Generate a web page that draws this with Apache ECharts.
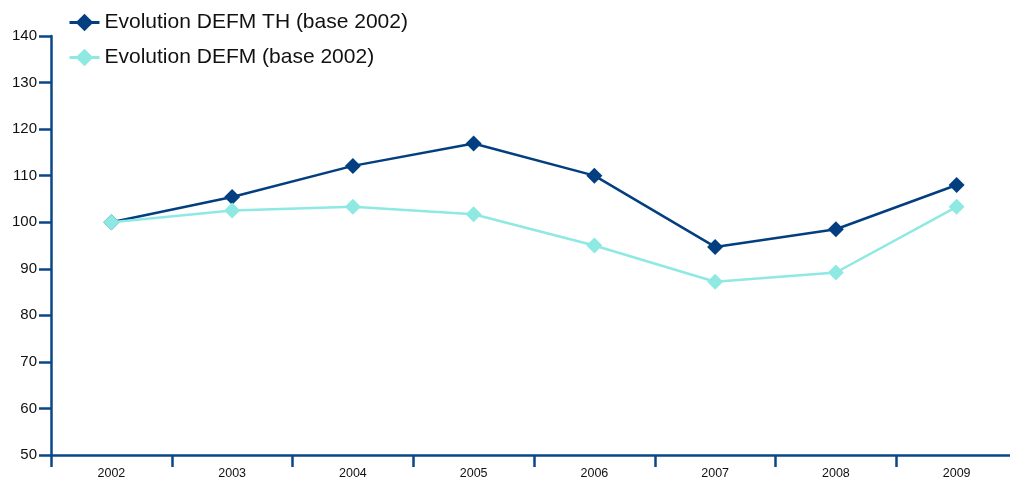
<!DOCTYPE html>
<html><head><meta charset="utf-8">
<script src="https://cdn.jsdelivr.net/npm/echarts@6/dist/echarts.min.js"></script>
<style>html,body{margin:0;padding:0;background:#fff}#c{width:1010px;height:481px}</style>
</head><body><div id="c"></div>
<script>
const categories = ['2002','2003','2004','2005','2006','2007','2008','2009'];
const seriesTH = [100, 105.4, 112.1, 116.9, 110.0, 94.7, 98.5, 108.0];
const seriesDEFM = [100, 102.5, 103.3, 101.7, 95.0, 87.2, 89.2, 103.3];
const nameTH = 'Evolution DEFM TH (base 2002)';
const nameDEFM = 'Evolution DEFM (base 2002)';
const axisColor = '#0a4788';
const font = 'Arial, "Liberation Sans", sans-serif';
const chart = echarts.init(document.getElementById('c'), null, {renderer:'canvas'});
chart.setOption({
  animation: false,
  backgroundColor: '#fff',
  grid: {left: 51, top: 36, height: 419, width: 966, containLabel: false, outerBoundsMode: 'none'},
  legend: {
    orient: 'vertical', left: 63, top: 7, itemGap: 14,
    itemWidth: 30, itemHeight: 22,
    lineStyle: {width: 3},
    textStyle: {fontFamily: font, fontSize: 21, color: '#111'},
    data: [nameTH, nameDEFM]
  },
  xAxis: {
    type: 'category', data: categories, boundaryGap: true,
    axisLine: {lineStyle: {color: axisColor, width: 2.5}},
    axisTick: {show: true, length: 12, inside: false, lineStyle: {color: axisColor, width: 2.5}},
    axisLabel: {fontFamily: font, fontSize: 12.5, color: '#111', margin: 12},
    splitLine: {show: false}
  },
  yAxis: {
    type: 'value', min: 50, max: 140, interval: 10,
    axisLine: {show: true, lineStyle: {color: axisColor, width: 2.5}},
    axisTick: {show: true, length: 12, lineStyle: {color: axisColor, width: 2.5}},
    axisLabel: {fontFamily: font, fontSize: 15, color: '#111', margin: 14},
    splitLine: {show: false}
  },
  series: [
    {name: nameTH, type: 'line', data: seriesTH, symbol: 'diamond', symbolSize: 16,
     color: '#033f80', lineStyle: {width: 2.5, color: '#033f80'}, itemStyle: {color: '#033f80'}, z: 3},
    {name: nameDEFM, type: 'line', data: seriesDEFM, symbol: 'diamond', symbolSize: 16,
     color: '#8ee9e3', lineStyle: {width: 2.5, color: '#8ee9e3'}, itemStyle: {color: '#8ee9e3'}, z: 4}
  ]
});
</script></body></html>
